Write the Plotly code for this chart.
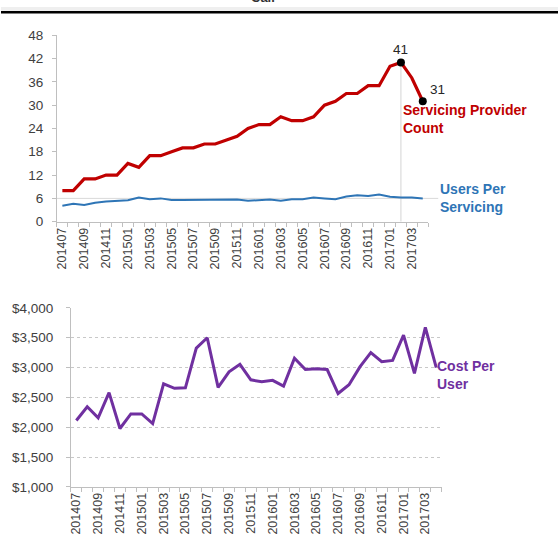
import plotly.graph_objects as go

W, H = 558, 551

months = ["201407", "201408", "201409", "201410", "201411", "201412",
          "201501", "201502", "201503", "201504", "201505", "201506",
          "201507", "201508", "201509", "201510", "201511", "201512",
          "201601", "201602", "201603", "201604", "201605", "201606",
          "201607", "201608", "201609", "201610", "201611", "201612",
          "201701", "201702", "201703", "201704"]

provider_count = [8, 8, 11, 11, 12, 12,
                  15, 14, 17, 17, 18, 19,
                  19, 20, 20, 21, 22, 24,
                  25, 25, 27, 26, 26, 27,
                  30, 31, 33, 33, 35, 35,
                  40, 41, 37, 31]

users_per_servicing = [4.1, 4.6, 4.3, 4.9, 5.2, 5.4,
                       5.5, 6.2, 5.8, 6.0, 5.6, 5.6,
                       5.6, 5.6, 5.6, 5.7, 5.7, 5.4,
                       5.6, 5.7, 5.4, 5.8, 5.8, 6.2,
                       6.0, 5.8, 6.5, 6.8, 6.6, 7.0,
                       6.4, 6.2, 6.2, 6.0]

cost_per_user = [2113, 2342, 2158, 2580, 1978, 2223,
                 2223, 2060, 2728, 2652, 2660, 3325,
                 3500, 2668, 2929, 3054, 2794, 2761,
                 2786, 2690, 3157, 2967, 2978, 2967,
                 2565, 2712, 3011, 3250, 3097, 3120,
                 3543, 2902, 3674, 2999]

tick_text = [m if i % 2 == 0 else "" for i, m in enumerate(months)]

RED = "#c00000"
BLUE = "#2e75b6"
PURPLE = "#7030a0"
AXIS = "#bfbfbf"
TXT = "#404040"
FONT = "Liberation Sans, Arial, sans-serif"


def px(x):
    return x / W


def py(y):
    return 1 - y / H


peak_i = provider_count.index(max(provider_count))
last_i = len(months) - 1

fig = go.Figure()
fig.add_trace(go.Scatter(x=months, y=provider_count, xaxis="x", yaxis="y",
                         mode="lines", line=dict(color=RED, width=3.2),
                         showlegend=False, hoverinfo="skip"))
fig.add_trace(go.Scatter(x=months, y=users_per_servicing, xaxis="x", yaxis="y",
                         mode="lines", line=dict(color=BLUE, width=2),
                         showlegend=False, hoverinfo="skip"))
fig.add_trace(go.Scatter(x=[months[peak_i], months[last_i]],
                         y=[provider_count[peak_i], provider_count[last_i]],
                         xaxis="x", yaxis="y", mode="markers",
                         marker=dict(color="black", size=8),
                         showlegend=False, hoverinfo="skip"))
fig.add_trace(go.Scatter(x=months, y=cost_per_user, xaxis="x2", yaxis="y2",
                         mode="lines", line=dict(color=PURPLE, width=3),
                         showlegend=False, hoverinfo="skip"))

xcommon = dict(type="category", categoryorder="array", categoryarray=months,
               range=[-0.5, len(months) - 0.5], tickmode="array",
               tickvals=months, ticktext=tick_text, tickson="boundaries",
               ticks="outside", ticklen=4, tickcolor=AXIS, showline=True,
               linecolor=AXIS, linewidth=1, tickangle=-90, showgrid=False,
               zeroline=False, tickfont=dict(family=FONT, size=12.5, color=TXT))

fig.update_layout(
    width=W, height=H, margin=dict(l=0, r=0, t=0, b=0),
    paper_bgcolor="white", plot_bgcolor="white",
    font=dict(family=FONT, color=TXT),
    xaxis=dict(domain=[px(56), px(428)], anchor="y", **xcommon),
    yaxis=dict(domain=[py(220.7), py(29)], anchor="x", range=[0, 48],
               dtick=6, tick0=0, showgrid=False, zeroline=False,
               showline=True, linecolor=AXIS, ticks="outside", ticklen=4,
               tickcolor=AXIS, ticklabelstandoff=6,
               tickfont=dict(family=FONT, size=13.5, color=TXT)),
    xaxis2=dict(domain=[px(70), px(441.5)], anchor="y2", **xcommon),
    yaxis2=dict(domain=[py(493.3), py(309.3)], anchor="x2",
                range=[1000, 4000], dtick=500, tick0=1000,
                tickprefix="$", tickformat=",", showgrid=True,
                gridcolor="#c8c8c8", griddash="dot", gridwidth=1,
                zeroline=False, showline=True, linecolor=AXIS,
                ticks="outside", ticklen=4, tickcolor=AXIS,
                ticklabelstandoff=10,
                tickfont=dict(family=FONT, size=13.5, color=TXT)),
)

shapes = [
    dict(type="rect", xref="paper", yref="paper", x0=0, x1=1,
         y0=py(4.5), y1=1, fillcolor="#efefef", line=dict(width=0)),
    dict(type="line", xref="paper", yref="paper", x0=0, x1=1,
         y0=py(5.5), y1=py(5.5), line=dict(color="black", width=2.5)),
    dict(type="line", xref="x", yref="y", x0=peak_i, x1=peak_i, y0=0,
         y1=provider_count[peak_i], line=dict(color="#d4d4d4", width=1),
         layer="below"),
    dict(type="line", xref="paper", yref="y", x0=px(56), x1=px(438),
         y0=6, y1=6, line=dict(color="#d9d9d9", width=1), layer="below"),
]
fig.update_layout(shapes=shapes)

ann = []
ann.append(dict(x=peak_i, y=provider_count[peak_i], xref="x", yref="y",
                text=str(provider_count[peak_i]), showarrow=False, yshift=13,
                font=dict(family=FONT, size=13.5, color="#262626")))
ann.append(dict(x=last_i, y=provider_count[last_i], xref="x", yref="y",
                text=str(provider_count[last_i]), showarrow=False, xshift=15,
                yshift=12, font=dict(family=FONT, size=13.5, color="#262626")))


def label(text, x, y, color):
    return dict(x=px(x), y=py(y), xref="paper", yref="paper", text=text,
                showarrow=False, xanchor="left", yanchor="middle",
                align="left",
                font=dict(family=FONT, size=14, color=color, weight="bold"))


ann += [
    label("Servicing Provider<br>Count", 401, 115, RED),
    label("Users Per<br>Servicing", 437.5, 196.3, BLUE),
    label("Cost Per<br>User", 435, 378.8, PURPLE),
    dict(x=px(262), y=py(0.5), xref="paper", yref="paper", text="Call",
         showarrow=False, xanchor="center", yanchor="bottom",
         font=dict(family=FONT, size=13, color="#333333", weight="bold")),
]
fig.update_layout(annotations=ann)

fig.write_html("out.html")
